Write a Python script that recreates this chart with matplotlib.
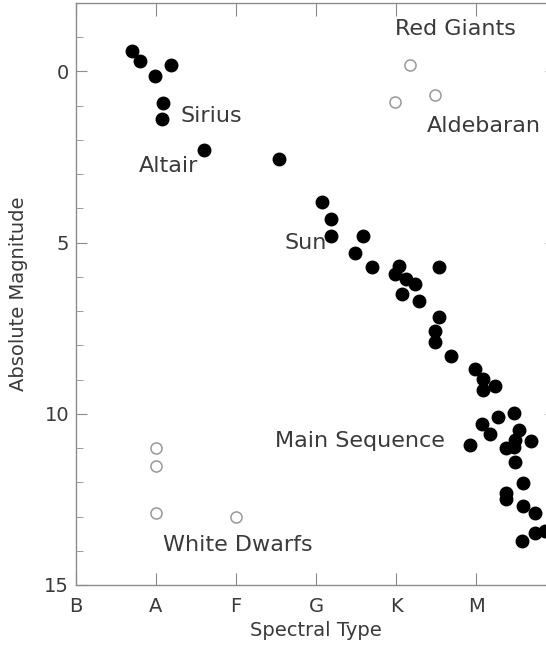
import matplotlib
matplotlib.use("Agg")
import matplotlib.pyplot as plt
from matplotlib.ticker import MultipleLocator

# spectral type axis: B=0, A=1, F=2, G=3, K=4, M=5
spectral_labels = ["B", "A", "F", "G", "K", "M"]

# main sequence stars (filled)
ms_type = [0.70, 0.80, 0.99, 1.19, 1.09, 1.08, 1.60, 2.54,
           3.08, 3.19, 3.19, 3.59, 3.49, 3.70, 4.04, 3.99, 4.13, 4.24, 4.08, 4.29,
           4.54, 4.54, 4.49, 4.49, 4.69, 4.99, 5.09, 5.09, 5.24,
           5.08, 5.18, 5.28, 5.48, 5.54, 4.93, 5.49, 5.48, 5.38, 5.69, 5.49,
           5.59, 5.38, 5.38, 5.59, 5.74, 5.58, 5.74, 5.86]
ms_mag = [-0.59, -0.30, 0.12, -0.20, 0.92, 1.40, 2.28, 2.57,
          3.81, 4.31, 4.80, 4.82, 5.30, 5.71, 5.67, 5.91, 6.05, 6.20, 6.50, 6.70,
          5.71, 7.18, 7.59, 7.90, 8.30, 8.70, 8.99, 9.31, 9.20,
          10.30, 10.58, 10.10, 9.99, 10.48, 10.91, 10.76, 10.97, 11.00, 10.78, 11.40,
          12.01, 12.30, 12.49, 12.69, 12.90, 13.71, 13.49, 13.41]

# red giants (open)
rg_type = [4.18, 3.99, 4.49]
rg_mag = [-0.20, 0.90, 0.70]

# white dwarfs (open)
wd_type = [1.0, 1.0, 1.0, 2.0]
wd_mag = [11.00, 11.51, 12.90, 13.00]

labels = [
    ("Red Giants", 3.99, -1.23),
    ("Aldebaran", 4.39, 1.60),
    ("Sirius", 1.30, 1.29),
    ("Altair", 0.78, 2.75),
    ("Sun", 2.60, 5.00),
    ("Main Sequence", 2.49, 10.79),
    ("White Dwarfs", 1.09, 13.83),
]

text_color = "#3a3a3a"
axis_color = "#8c8c8c"

fig = plt.figure(figsize=(5.46, 6.48), dpi=100)
# right edge of the plot box lies outside the picture, like the original
ax = fig.add_axes([76 / 546, 63 / 648, 480 / 546, 582 / 648])

ax.plot(ms_type, ms_mag, "o", color="black", markersize=9, clip_on=False)
ax.plot(rg_type, rg_mag, "o", mfc="none", mec="#999999", mew=1.1, markersize=8)
ax.plot(wd_type, wd_mag, "o", mfc="none", mec="#999999", mew=1.1, markersize=8)

for txt, x, y in labels:
    ax.text(x, y, txt, fontsize=16, color=text_color, ha="left", va="center")

ax.set_xlim(0, 6)
ax.set_ylim(15, -2)
ax.set_xticks(range(len(spectral_labels)))
ax.set_xticklabels(spectral_labels)
ax.yaxis.set_major_locator(MultipleLocator(5))
ax.yaxis.set_minor_locator(MultipleLocator(1))

ax.tick_params(axis="both", which="both", direction="in", top=True, right=True,
               color=axis_color, labelcolor=text_color, labelsize=14)
ax.tick_params(axis="x", which="major", length=9, pad=9)
ax.tick_params(axis="y", which="major", length=8, pad=5)
ax.tick_params(axis="y", which="minor", length=5)
for s in ax.spines.values():
    s.set_color(axis_color)
    s.set_linewidth(1.0)

ax.set_xlabel("Spectral Type", fontsize=14, color=text_color, labelpad=3)
ax.set_ylabel("Absolute Magnitude", fontsize=14, color=text_color, labelpad=12)

fig.savefig("out.png", dpi=100)
